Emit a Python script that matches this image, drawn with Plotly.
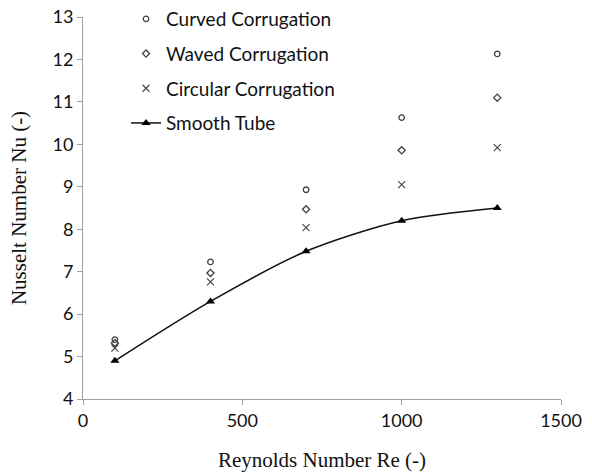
import plotly.graph_objects as go

# Reynolds numbers tested
reynolds = [100, 400, 700, 1000, 1300]

# Nusselt numbers per tube geometry
nu_curved = [5.40, 7.23, 8.93, 10.63, 12.13]
nu_waved = [5.32, 6.97, 8.47, 9.86, 11.10]
nu_circular = [5.20, 6.76, 8.04, 9.05, 9.92]
nu_smooth = [4.90, 6.30, 7.48, 8.20, 8.50]

x_ticks = [0, 500, 1000, 1500]
y_ticks = list(range(4, 14))

mark_color = "#404040"
label_font = "Lato, Carlito, 'Open Sans', sans-serif"
title_font = "'Liberation Serif', 'Times New Roman', serif"

fig = go.Figure()

fig.add_trace(go.Scatter(
    x=reynolds, y=nu_curved, mode="markers", name="Curved Corrugation",
    legendgroup="a",
    marker=dict(symbol="circle-open", size=5.5, color=mark_color, line=dict(width=1.3)),
))
fig.add_trace(go.Scatter(
    x=reynolds, y=nu_waved, mode="markers", name="Waved Corrugation",
    legendgroup="b",
    marker=dict(symbol="diamond-open", size=5.5, color=mark_color, line=dict(width=1.3)),
))
fig.add_trace(go.Scatter(
    x=reynolds, y=nu_circular, mode="markers", name="Circular Corrugation",
    legendgroup="c",
    marker=dict(symbol="x-thin-open", size=7, color=mark_color, line=dict(width=1.1)),
))
fig.add_trace(go.Scatter(
    x=reynolds, y=nu_smooth, mode="lines+markers", name="Smooth Tube",
    legendgroup="d",
    line=dict(color="#111111", width=1.5, shape="spline", smoothing=0.8),
    marker=dict(symbol="triangle-up", size=8, color="#000000"),
))

fig.update_layout(
    width=592, height=474,
    margin=dict(l=83, r=31, t=17, b=75, autoexpand=False),
    paper_bgcolor="white", plot_bgcolor="white",
    showlegend=True,
    legend=dict(
        x=0.09, y=1.0445, xanchor="left", yanchor="top",
        font=dict(family=label_font, size=19, color="#111111"),
        bgcolor="rgba(0,0,0,0)",
        traceorder="grouped", tracegroupgap=7,
    ),
    xaxis=dict(
        range=[0, 1500], tickvals=x_ticks, showgrid=False, zeroline=False,
        showline=True, linecolor="#a0a0a0", linewidth=1,
        ticks="outside", ticklen=5, tickcolor="#a0a0a0",
        tickfont=dict(family=label_font, size=18, color="#111111"),
        title=dict(text="Reynolds Number Re (-)", standoff=22,
                   font=dict(family=title_font, size=21, color="#111111")),
    ),
    yaxis=dict(
        range=[4, 13], tickvals=y_ticks, showgrid=False, zeroline=False,
        showline=True, linecolor="#a0a0a0", linewidth=1,
        ticks="outside", ticklen=5, tickcolor="#a0a0a0",
        tickfont=dict(family=label_font, size=18, color="#111111"),
        title=dict(text="Nusselt Number Nu (-)", standoff=20,
                   font=dict(family=title_font, size=21, color="#111111")),
    ),
)

fig.write_html("out.html")
